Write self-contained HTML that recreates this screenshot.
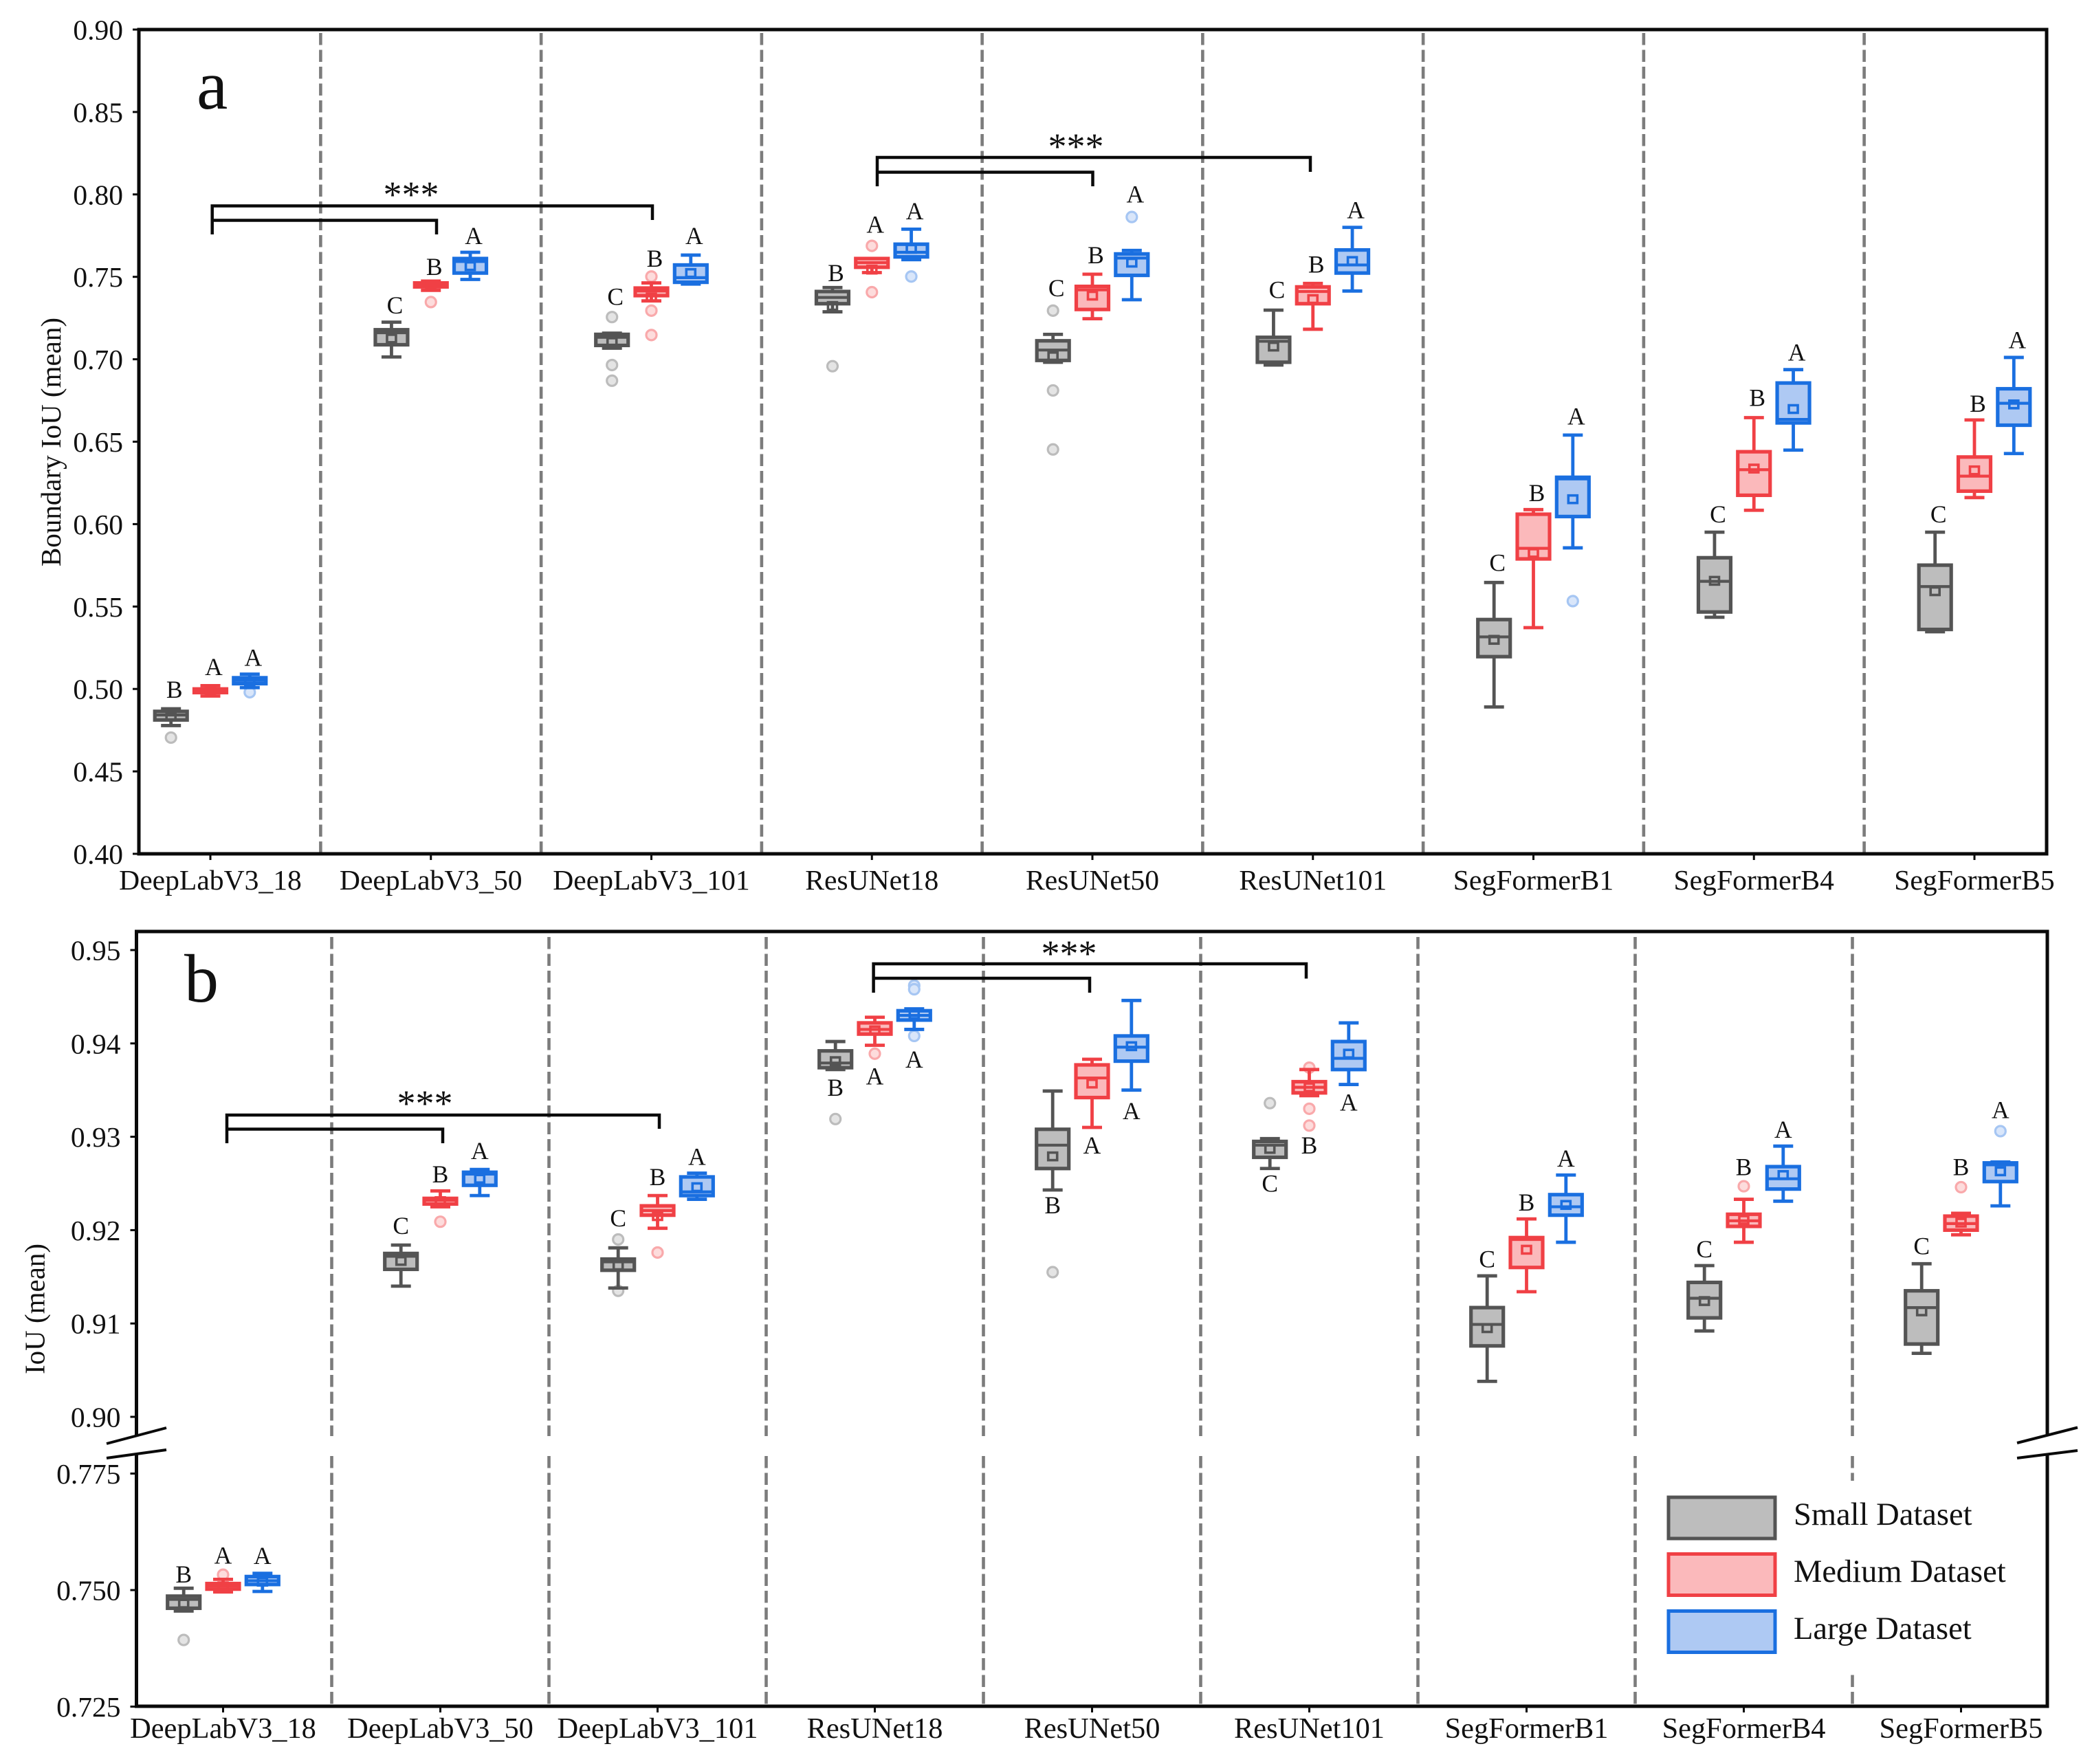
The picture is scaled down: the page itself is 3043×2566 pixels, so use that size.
<!DOCTYPE html>
<html lang="en">
<head>
<meta charset="utf-8">
<title>Boundary IoU and IoU box plots</title>
<style>
html,body{margin:0;padding:0;background:#fff;}
svg{display:block;}
text{font-family:"Liberation Serif",serif;fill:#111;}
</style>
</head>
<body>
<svg id="chart" xmlns="http://www.w3.org/2000/svg" width="3043" height="2566" viewBox="0 0 3043 2566">
  <rect x="0" y="0" width="3043" height="2566" fill="#fff"/>
  <g id="layer-sep"></g>
  <rect x="2410" y="2154" width="550" height="278" fill="#fff"/>
  <g id="layer-boxes"></g>
  <g id="layer-axes"></g>

  <g fill="none" stroke="#0a0a0a" stroke-width="5">
    <rect x="202" y="43" width="2775" height="1199"/>
  </g>
  <g fill="none" stroke="#0a0a0a" stroke-width="5">
    <path d="M198.5 2088V1355H2978V2088"/>
    <path d="M198.5 2115V2482H2978V2115"/>
  </g>
  <g fill="none" stroke="#0a0a0a" stroke-width="4">
    <path d="M155 2100L242 2077"/>
    <path d="M155 2121L242 2109"/>
    <path d="M2934 2099L3022 2076.5"/>
    <path d="M2934 2121L3022 2110"/>
  </g>

  <text x="286" y="158" font-size="102">a</text>
  <text x="268" y="1457" font-size="100">b</text>
  <text transform="translate(88,643) rotate(-90)" text-anchor="middle" font-size="41">Boundary IoU (mean)</text>
  <text transform="translate(64.5,1904) rotate(-90)" text-anchor="middle" font-size="41">IoU (mean)</text>

  <g fill="none" stroke="#0a0a0a" stroke-width="4.5">
    <path d="M308.7 341V299.5H949V320M308.7 320.5H635V341"/>
    <path d="M1276 271V229H1906V250M1276 250.5H1589.5V271"/>
    <path d="M330 1663V1622H959V1642M330 1642.5H644V1663"/>
    <path d="M1270.6 1444V1402H1900V1423.5M1270.6 1423H1585V1444"/>
  </g>
  <text x="598" y="301" text-anchor="middle" font-size="54">***</text>
  <text x="1565" y="231" text-anchor="middle" font-size="54">***</text>
  <text x="618" y="1623" text-anchor="middle" font-size="54">***</text>
  <text x="1555" y="1405" text-anchor="middle" font-size="54">***</text>

  <g>
    <g>
      <rect x="2427" y="2178" width="155" height="60" fill="#bdbdbd" stroke="#545454" stroke-width="5"/>
      <text x="2609" y="2218" font-size="46.5">Small Dataset</text>
    </g>
    <g>
      <rect x="2427" y="2260.5" width="155" height="60" fill="#fbb9bb" stroke="#f04045" stroke-width="5"/>
      <text x="2609" y="2301" font-size="46.5">Medium Dataset</text>
    </g>
    <g>
      <rect x="2427" y="2343.5" width="155" height="60" fill="#aec9f3" stroke="#1a6fe0" stroke-width="5"/>
      <text x="2609" y="2384" font-size="46.5">Large Dataset</text>
    </g>
  </g>
</svg>

<script>
// Categories and tick labels
const models = ['DeepLabV3_18','DeepLabV3_50','DeepLabV3_101','ResUNet18','ResUNet50','ResUNet101','SegFormerB1','SegFormerB4','SegFormerB5'];
const ticksA = ['0.40','0.45','0.50','0.55','0.60','0.65','0.70','0.75','0.80','0.85','0.90'];
const ticksB = ['0.725','0.750','0.775','0.90','0.91','0.92','0.93','0.94','0.95'];

// Panel a stats per model: [low whisker, q1, median, q3, high whisker, mean]
const aSmall = [
  [.4778,.4812,.4842,.4864,.4880,.4833],[.7014,.7088,.7161,.7179,.7225,.7126],[.7067,.7084,.7133,.7151,.7158,.7105],
  [.7288,.7337,.7375,.7411,.7435,.7323],[.6982,.6993,.7056,.7112,.7151,.7018],[.6965,.6982,.7109,.7133,.7298,.7077],
  [.4891,.5196,.5316,.5421,.5646,.5298],[.5435,.5467,.5653,.5796,.5951,.5656],[.5347,.5361,.5621,.5751,.5951,.5593]];
const aMedium = [
  [.4957,.4978,.4992,.5000,.5020,.4990],[.7418,.7439,.7453,.7463,.7474,.7449],[.7354,.7386,.7414,.7432,.7463,.7375],
  [.7526,.7558,.7586,.7611,.7611,.7544],[.7246,.7302,.7421,.7442,.7516,.7386],[.7182,.7337,.7411,.7439,.7460,.7365],
  [.5372,.5789,.5853,.6060,.6088,.5825],[.6084,.6175,.6330,.6439,.6646,.6337],[.6161,.6200,.6291,.6407,.6632,.6326]];
const aLarge = [
  [.5008,.5032,.5052,.5068,.5090,.5045],[.7484,.7523,.7593,.7611,.7649,.7565],[.7456,.7467,.7495,.7572,.7632,.7523],
  [.7604,.7621,.7649,.7698,.7789,.7670],[.7361,.7509,.7614,.7639,.7660,.7586],[.7414,.7523,.7572,.7663,.7800,.7596],
  [.5856,.6046,.6274,.6284,.6540,.6151],[.6449,.6614,.6635,.6856,.6937,.6698],[.6428,.6600,.6733,.6821,.7011,.6726]];
const aSmallOutliers = [[.4705],[],[.7256,.6965,.687],[.6958],[.7295,.6811,.6453],[],[],[],[]];
const aMediumOutliers = [[],[.7347],[.7502,.7295,.7147],[.7688,.7407],[],[],[],[],[]];
const aLargeOutliers = [[.498],[],[],[.7502],[.7863],[],[.5533],[],[]];
const aSmallLetters = ['B','C','C','B','C','C','C','C','C'];
const aMediumLetters = ['A','B','B','A','B','B','B','B','B'];
const aLargeLetters = ['A','A','A','A','A','A','A','A','A'];
// Value each significance letter sits at
const aSmallLetterAt = [.4947,.7277,.7330,.7474,.7382,.7372,.5716,.6011,.6011];
const aMediumLetterAt = [.5084,.7512,.7561,.7768,.7582,.7526,.6140,.6716,.6681];
const aLargeLetterAt = [.5140,.7698,.7698,.7849,.7951,.7856,.6604,.6993,.7067];

// Panel b stats per model: [low whisker, q1, median, q3, high whisker, mean]
const bSmall = [
  [.7455,.7461,.7480,.7487,.7504,.7471],[.9140,.9158,.9172,.9175,.9184,.9167],[.9138,.9157,.9166,.9169,.9181,.9162],
  [.9372,.9374,.9379,.9392,.9402,.9381],[.9243,.9266,.9291,.9308,.9349,.9279],[.9266,.9278,.9291,.9295,.9298,.9287],
  [.9038,.9076,.9099,.9117,.9151,.9095],[.9092,.9106,.9127,.9144,.9162,.9124],[.9068,.9078,.9117,.9135,.9164,.9113]];
const bMedium = [
  [.7496,.7502,.7509,.7514,.7523,.7508],[.9225,.9228,.9232,.9234,.9242,.9231],[.9202,.9216,.9221,.9226,.9237,.9215],
  [.9398,.9410,.9415,.9422,.9428,.9414],[.9310,.9342,.9363,.9377,.9383,.9357],[.9344,.9347,.9353,.9359,.9372,.9353],
  [.9134,.9160,.9190,.9192,.9212,.9179],[.9187,.9204,.9210,.9217,.9233,.9211],[.9195,.9200,.9207,.9215,.9218,.9208]];
const bLarge = [
  [.7497,.7512,.7520,.7529,.7536,.7518],[.9237,.9248,.9260,.9262,.9265,.9255],[.9233,.9237,.9241,.9257,.9261,.9246],
  [.9415,.9425,.9430,.9435,.9437,.9431],[.9350,.9381,.9396,.9408,.9446,.9397],[.9356,.9372,.9384,.9402,.9422,.9389],
  [.9187,.9216,.9225,.9238,.9259,.9227],[.9231,.9244,.9255,.9268,.9290,.9259],[.9226,.9252,.9270,.9272,.9273,.9263]];
const bSmallOutliers = [[.7393],[],[.9190,.9135],[.9319],[.9155],[.9336],[],[],[]];
const bMediumOutliers = [[.7533],[.9209],[.9176],[.9389],[],[.9374,.9330,.9312],[],[.9247],[.9246]];
const bLargeOutliers = [[],[],[],[.9462,.9458,.9408],[],[],[],[],[.9306]];
const bSmallLetters = ['B','C','C','B','B','C','C','C','C'];
const bMediumLetters = ['A','B','B','A','A','B','B','B','B'];
const bLargeLetters = ['A','A','A','A','A','A','A','A','A'];
const bSmallLetterAt = [.7516,.9196,.9204,.9344,.9218,.9241,.9160,.9171,.9174];
const bMediumLetterAt = [.7557,.9251,.9248,.9356,.9282,.9282,.9221,.9259,.9259];
const bLargeLetterAt = [.7556,.9276,.9270,.9374,.9319,.9328,.9268,.9299,.9320];

const SVGNS = 'http://www.w3.org/2000/svg';
const STROKES = ['#545454','#f04045','#1a6fe0'];
const FILLS = ['#bdbdbd','#fbb9bb','#aec9f3'];
const OUT_FILLS = ['#e4e4e4','#fddcdc','#d9e6fa'];
const OUT_EDGES = ['#bcbcbc','#f9a9ab','#a6c6f3'];

function make(parent, tag, attrs, content){
  const node = document.createElementNS(SVGNS, tag);
  for (const k in attrs) node.setAttribute(k, attrs[k]);
  if (content !== undefined) node.textContent = content;
  parent.appendChild(node);
  return node;
}

// Axis functions
function xA(i){ return 306 + 320.75 * i; }
function xB(i){ return 324.5 + 316 * i; }
function yA(v){ return 43 + (0.9 - v) * 2398; }
function yB(v){ return v >= 0.85 ? 1382 + (0.95 - v) * 13580 : 2313 + (0.75 - v) * 6780; }

const boxLayer = document.getElementById('layer-boxes');
const axisLayer = document.getElementById('layer-axes');
const sepLayer = document.getElementById('layer-sep');

function drawBox(xc, y, stats, outliers, letter, letterAt, s, letterDx){
  const g = make(boxLayer, 'g', {});
  
  
  const stroke = STROKES[s], low = y(stats[0]), q1 = y(stats[1]), med = y(stats[2]), q3 = y(stats[3]), high = y(stats[4]), mean = y(stats[5]);

  outliers.forEach(function(v){
    const o = make(g, 'circle', {cx: xc, cy: y(v), r: 7.5, fill: OUT_FILLS[s], stroke: OUT_EDGES[s], 'stroke-width': 3.2});
    
    
  });

  const w = make(g, 'path', {d: 'M' + xc + ' ' + high + 'V' + q3 + 'M' + xc + ' ' + q1 + 'V' + low + 'M' + (xc - 14.5) + ' ' + high + 'H' + (xc + 14.5) + 'M' + (xc - 14.5) + ' ' + low + 'H' + (xc + 14.5), fill: 'none', stroke: stroke, 'stroke-width': 4.8});
  
  

  const b = make(g, 'rect', {x: xc - 23.5, y: q3, width: 47, height: Math.max(q1 - q3, 0.5), fill: FILLS[s], stroke: stroke, 'stroke-width': 5.2});
  
  

  const m = make(g, 'line', {x1: xc - 23.5, x2: xc + 23.5, y1: med, y2: med, stroke: stroke, 'stroke-width': 4.2});
  
  

  const sq = make(g, 'rect', {x: xc - 6.5, y: mean - 5.5, width: 13, height: 11, fill: 'none', stroke: stroke, 'stroke-width': 3.6});
  
  

  const t = make(g, 'text', {x: xc + letterDx, y: y(letterAt), 'text-anchor': 'middle', 'font-size': 35.5}, letter);
  
  
}

function drawPanel(x, y, series, outliers, letters, letterAts, letterDx, labelY, tickLabels, xFont){
  models.forEach(function(name, i){
    const tick = make(axisLayer, 'line', {x1: x(i), x2: x(i), y1: labelY.axis, y2: labelY.axis + 9, stroke: '#0a0a0a', 'stroke-width': 3});
    
    
    const label = make(axisLayer, 'text', {x: x(i), y: labelY.text, 'text-anchor': 'middle', 'font-size': xFont}, name);
    
    
    series.forEach(function(arr, s){
      drawBox(x(i) + (s - 1) * 57.3, y, arr[i], outliers[s][i], letters[s][i], letterAts[s][i], s, letterDx);
    });
  });
  tickLabels.forEach(function(lbl){
    const py = y(parseFloat(lbl));
    const tick = make(axisLayer, 'line', {x1: tickLeft(x) - 9, x2: tickLeft(x), y1: py, y2: py, stroke: '#0a0a0a', 'stroke-width': 3});
    
    
    const label = make(axisLayer, 'text', {x: tickLeft(x) - 23, y: py + 14.5, 'text-anchor': 'end', 'font-size': 41.5}, lbl);
    
    
  });
}
function tickLeft(x){ return x === xA ? 202 : 198.5; }

function drawSeparators(x, segments){
  for (let i = 0; i < models.length - 1; i++) {
    const px = (x(i) + x(i + 1)) / 2;
    segments.forEach(function(seg){
      const sep = make(sepLayer, 'line', {x1: px, x2: px, y1: seg[0], y2: seg[1], stroke: '#7c7c7c', 'stroke-width': 4.6, 'stroke-dasharray': '17.5 7'});
      
      
    });
  }
}

drawSeparators(xA, [[48, 1240]]);
drawSeparators(xB, [[1363, 2089], [2118, 2480]]);

drawPanel(xA, yA, [aSmall, aMedium, aLarge], [aSmallOutliers, aMediumOutliers, aLargeOutliers],
  [aSmallLetters, aMediumLetters, aLargeLetters], [aSmallLetterAt, aMediumLetterAt, aLargeLetterAt], 5,
  {axis: 1242, text: 1294}, ticksA, 41.6);
drawPanel(xB, yB, [bSmall, bMedium, bLarge], [bSmallOutliers, bMediumOutliers, bLargeOutliers],
  [bSmallLetters, bMediumLetters, bLargeLetters], [bSmallLetterAt, bMediumLetterAt, bLargeLetterAt], 0,
  {axis: 2482, text: 2528}, ticksB, 42.4);
</script>
</body>
</html>
